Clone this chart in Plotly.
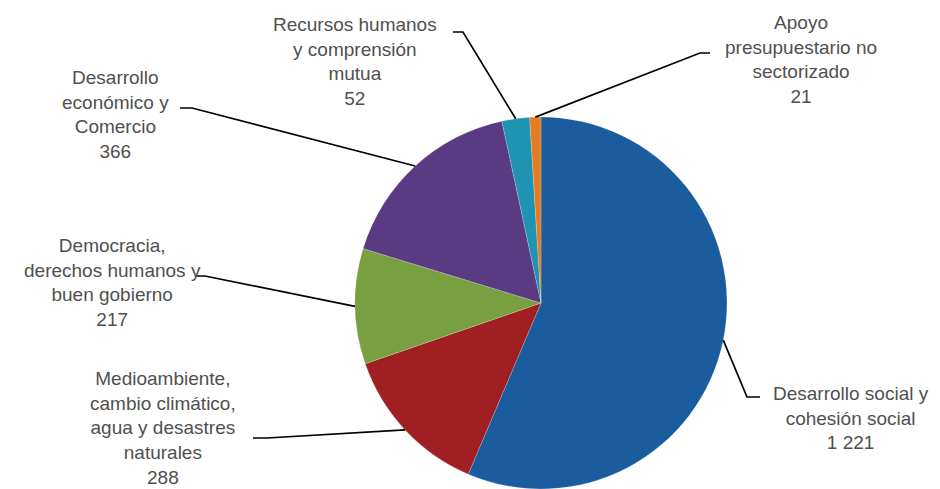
import math
import plotly.graph_objects as go

# ---- data ----
categories = [
    "Desarrollo social y<br>cohesión social",
    "Medioambiente,<br>cambio climático,<br>agua y desastres<br>naturales",
    "Democracia,<br>derechos humanos y<br>buen gobierno",
    "Desarrollo<br>económico y<br>Comercio",
    "Recursos humanos<br>y comprensión<br>mutua",
    "Apoyo<br>presupuestario no<br>sectorizado",
]
values = [1221, 288, 217, 366, 52, 21]
colors = ["#1A5C9E", "#A01F23", "#78A040", "#5A3A82", "#1F93B2", "#E57C22"]

# ---- layout (pixels) ----
W, H = 940, 489
CX, CY, R = 541, 303, 186
# label centre, elbow point, line end near text
label_pos = [(851, 418), (163, 428), (112, 282), (115, 114), (355, 61), (801, 60)]
elbows = [(747, 397), (267, 438), (205, 276), (192, 108), (463, 32), (700, 53)]
ends = [(760, 397), (253, 438), (195, 276), (180, 108), (453, 32), (710, 53)]


def px(x):
    return x / W


def py(y):
    return 1 - y / H


def fmt(v):
    return f"{v:,}".replace(",", " ")


fig = go.Figure()
fig.add_trace(go.Pie(
    labels=[c.replace("<br>", " ") for c in categories],
    values=values,
    sort=False,
    direction="clockwise",
    rotation=0,
    marker=dict(colors=colors, line=dict(color="rgba(255,255,255,0.4)", width=0.5)),
    textinfo="none",
    hoverinfo="label+value",
    showlegend=False,
    domain=dict(x=[px(CX - R), px(CX + R)], y=[py(CY + R), py(CY - R)]),
))

total = sum(values)
cum = 0
shapes = []
annotations = []
for i, v in enumerate(values):
    mid = (cum + v / 2) / total * 2 * math.pi
    cum += v
    ex = CX + R * math.sin(mid)
    ey = CY - R * math.cos(mid)
    bx, by = elbows[i]
    tx, ty = ends[i]
    shapes.append(dict(type="path", xref="paper", yref="paper",
                       path=f"M {px(ex)},{py(ey)} L {px(bx)},{py(by)} L {px(tx)},{py(ty)}",
                       line=dict(color="black", width=1.7)))
    lx, ly = label_pos[i]
    annotations.append(dict(
        x=px(lx), y=py(ly), xref="paper", yref="paper",
        text=f"{categories[i]}<br>{fmt(v)}",
        showarrow=False, xanchor="center", yanchor="middle", align="center",
        font=dict(family="Liberation Sans, Arial, sans-serif", size=19, color="#505050"),
    ))

fig.update_layout(
    width=W, height=H,
    margin=dict(l=0, r=0, t=0, b=0),
    paper_bgcolor="white", plot_bgcolor="white",
    shapes=shapes, annotations=annotations,
)
fig.write_html("out.html", config={"displayModeBar": False},
               post_script="document.body.style.margin='0';document.body.style.overflow='hidden';")
